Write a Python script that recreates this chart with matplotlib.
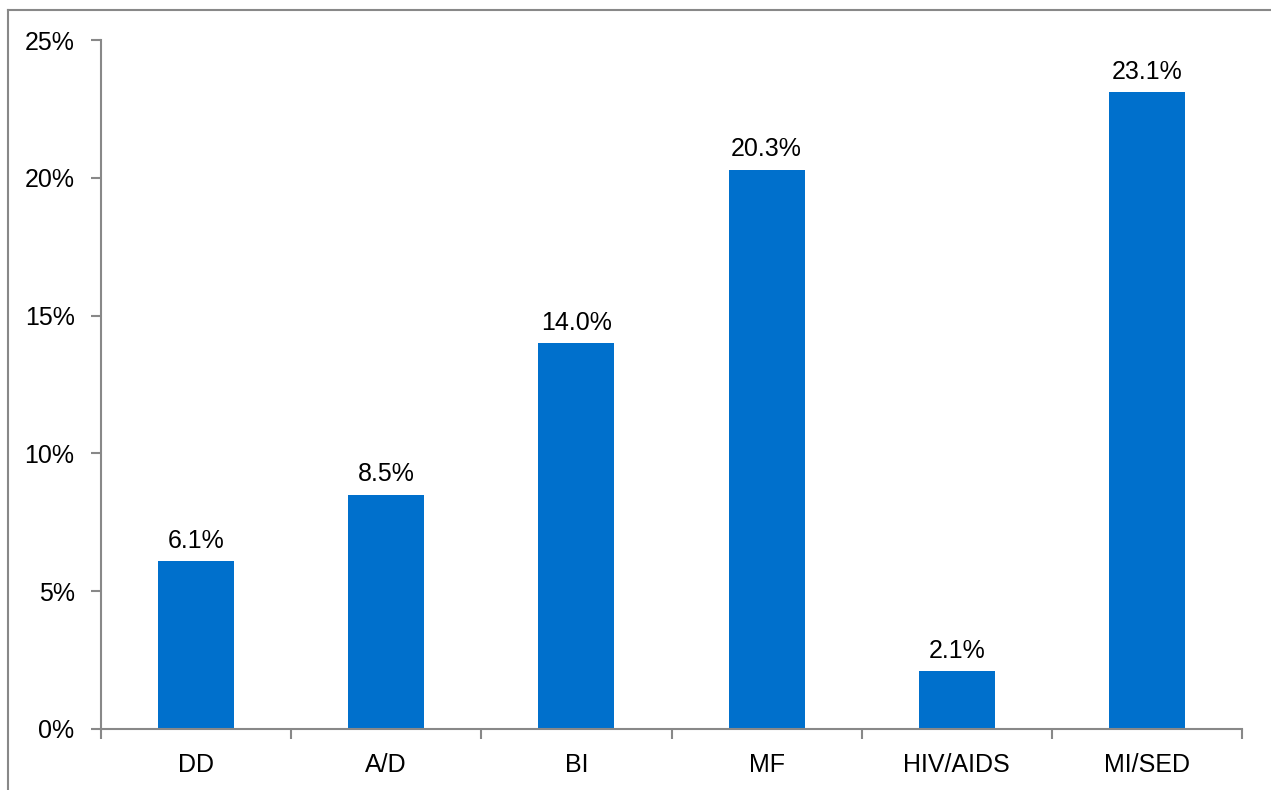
import numpy as np
import matplotlib.pyplot as plt
from matplotlib.lines import Line2D
from matplotlib.ticker import FuncFormatter

categorias = ['DD', 'A/D', 'BI', 'MF', 'HIV/AIDS', 'MI/SED']
percentuais = [6.1, 8.5, 14.0, 20.3, 2.1, 23.1]
ticks_y = [0, 5, 10, 15, 20, 25]

plt.rcParams['font.family'] = ['Liberation Sans', 'DejaVu Sans']

fig = plt.figure(figsize=(12.71, 7.90), dpi=100)
ax = fig.add_axes([101 / 1271, 1 - 729 / 790, (1242 - 101) / 1271, (729 - 40) / 790])

x = np.arange(len(categorias))
ax.bar(x, percentuais, width=0.4, color='#0070CC', zorder=2)

for xi, v in zip(x, percentuais):
    ax.text(xi, v + 0.3, f'{v:.1f}%', ha='center', va='bottom', fontsize=18)

ax.set_xlim(-0.5, len(categorias) - 0.5)
ax.set_ylim(0, 25)
ax.set_yticks(ticks_y)
ax.yaxis.set_major_formatter(FuncFormatter(lambda v, p: f'{v:.0f}%'))

# categorias no meio, marcas de divisão entre elas
ax.set_xticks(np.arange(len(categorias) + 1) - 0.5)
ax.set_xticklabels([])
ax.set_xticks(x, minor=True)
ax.set_xticklabels(categorias, minor=True)
ax.tick_params(axis='x', which='minor', length=0, labelsize=18, pad=17)
ax.tick_params(axis='x', which='major', length=7, width=1.5, color='#888888', direction='out')
ax.tick_params(axis='y', length=7, width=1.5, color='#888888', direction='out', labelsize=18, pad=12)

for lado in ['top', 'right']:
    ax.spines[lado].set_visible(False)
for lado in ['left', 'bottom']:
    ax.spines[lado].set_color('#888888')
    ax.spines[lado].set_linewidth(1.5)

# moldura do gráfico
W, H = 1271, 790
fig.add_artist(Line2D([8 / W, 8 / W], [0, 1 - 10 / H], color='#888888', lw=1.5, transform=fig.transFigure))
fig.add_artist(Line2D([8 / W, 1], [1 - 10 / H, 1 - 10 / H], color='#888888', lw=1.5, transform=fig.transFigure))

fig.savefig('out.png', dpi=100)
